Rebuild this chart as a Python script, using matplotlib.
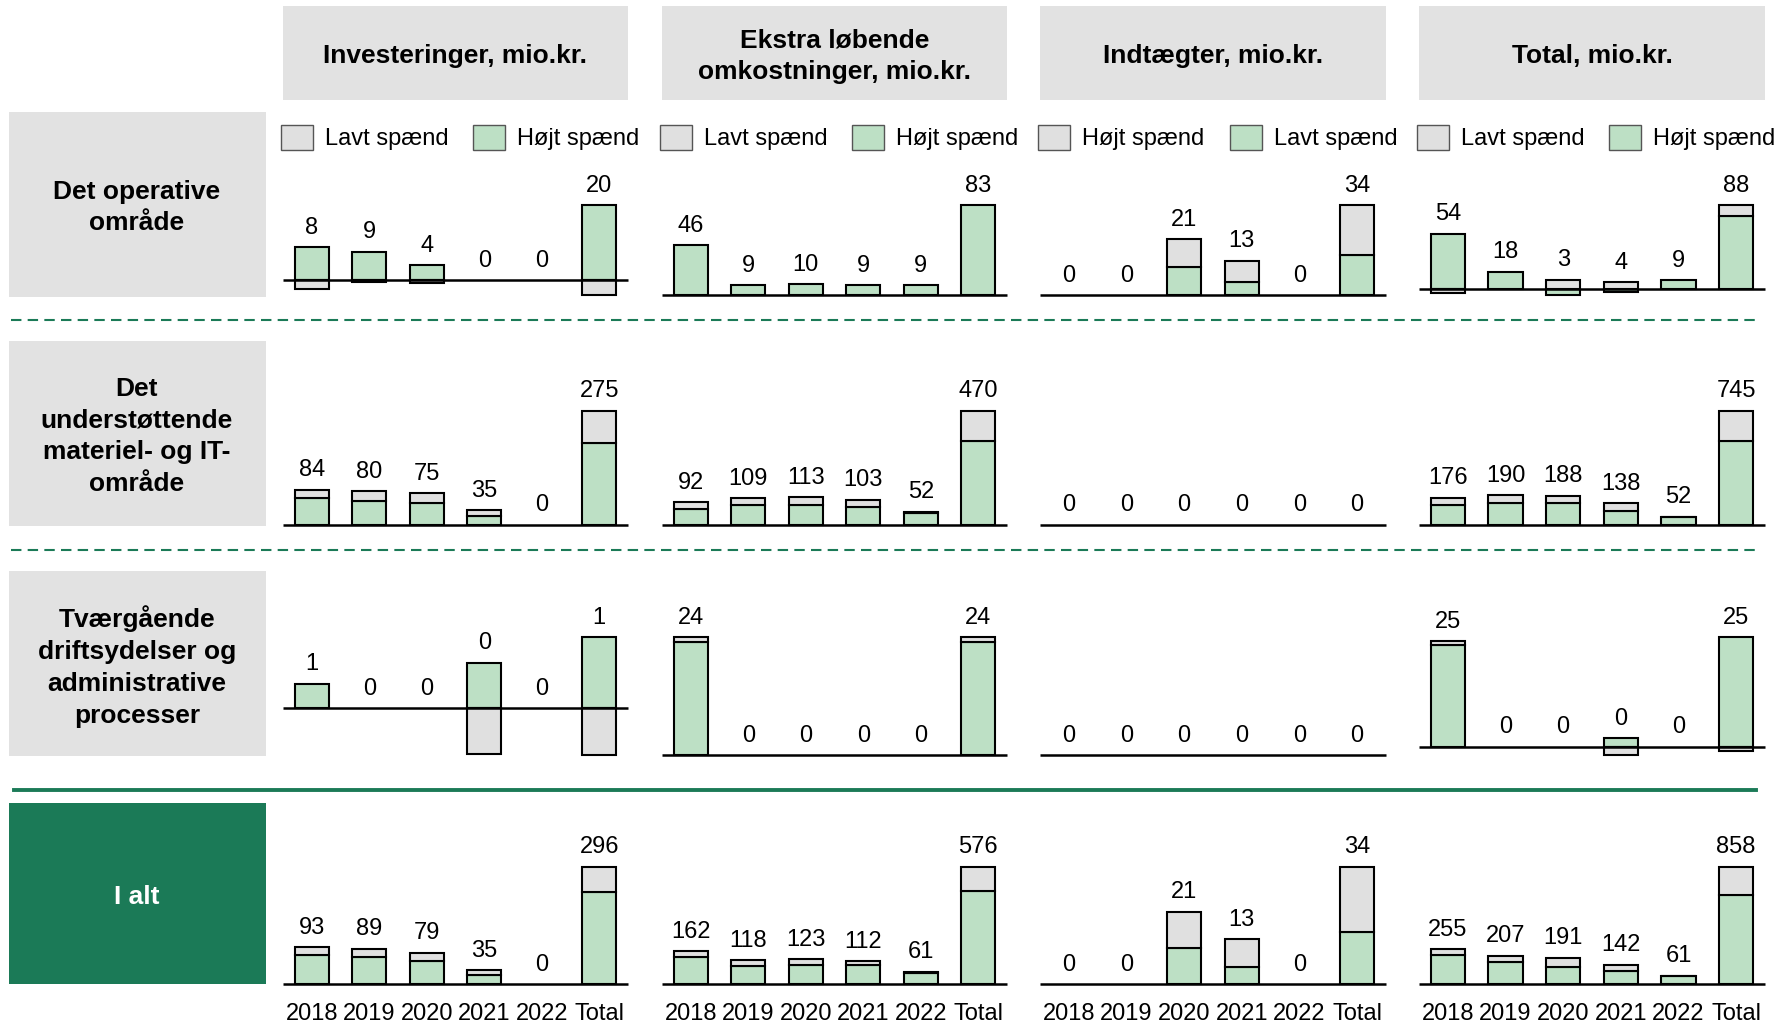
import matplotlib
matplotlib.use("Agg")
import matplotlib.pyplot as plt
from matplotlib.patches import Rectangle

plt.rcParams['font.family'] = ['Liberation Sans', 'DejaVu Sans']

# ---- data -------------------------------------------------------------
years = ["2018", "2019", "2020", "2021", "2022", "Total"]

column_titles = ["Investeringer, mio.kr.",
                 "Ekstra løbende\nomkostninger, mio.kr.",
                 "Indtægter, mio.kr.",
                 "Total, mio.kr."]

row_titles = ["Det operative\nområde",
              "Det\nunderstøttende\nmateriel- og IT-\nområde",
              "Tværgående\ndriftsydelser og\nadministrative\nprocesser",
              "I alt"]

# legend entries per column: (grey box, green box)
legend_labels = [("Lavt spænd", "Højt spænd"),
                 ("Lavt spænd", "Højt spænd"),
                 ("Højt spænd", "Lavt spænd"),
                 ("Lavt spænd", "Højt spænd")]

# bar totals (the printed values), one list per row
investeringer_total = [[8, 9, 4, 0, 0, 20],
                       [84, 80, 75, 35, 0, 275],
                       [1, 0, 0, 0, 0, 1],
                       [93, 89, 79, 35, 0, 296]]
# green segment of each bar
investeringer_groen = [[11, 9.5, 5, 0, 0, 25],
                       [63, 57, 52, 20, 0, 198],
                       [1, 0, 0, 1.85, 0, 2.9],
                       [73, 69, 59, 23, 0, 231]]

ekstra_total = [[46, 9, 10, 9, 9, 83],
                [92, 109, 113, 103, 52, 470],
                [24, 0, 0, 0, 0, 24],
                [162, 118, 123, 112, 61, 576]]
ekstra_groen = [[46, 9, 10, 9, 9, 83],
                [66, 82, 82, 74, 48, 345],
                [23, 0, 0, 0, 0, 23],
                [134, 90, 95, 92, 55, 457]]

indtaegter_total = [[0, 0, 21, 13, 0, 34],
                    [0, 0, 0, 0, 0, 0],
                    [0, 0, 0, 0, 0, 0],
                    [0, 0, 21, 13, 0, 34]]
indtaegter_groen = [[0, 0, 10.5, 5, 0, 15],
                    [0, 0, 0, 0, 0, 0],
                    [0, 0, 0, 0, 0, 0],
                    [0, 0, 10.5, 5, 0, 15]]

total_total = [[54, 18, 3, 4, 9, 88],
               [176, 190, 188, 138, 52, 745],
               [25, 0, 0, 0, 0, 25],
               [255, 207, 191, 142, 61, 858]]
total_groen = [[58, 18, -6.5, -3, 9, 76],
               [130, 140, 140, 88, 46, 546],
               [24, 0, 0, 2, 0, 26],
               [210, 158, 128, 96, 55, 651]]

totals = [investeringer_total, ekstra_total, indtaegter_total, total_total]
greens = [investeringer_groen, ekstra_groen, indtaegter_groen, total_groen]

# ---- style ------------------------------------------------------------
GREEN = '#bde0c5'
GREY = '#e0e0e0'
BOX = '#e2e2e2'
DARK = '#1b7a57'
W, H = 1790, 1024

fig = plt.figure(figsize=(W / 100, H / 100), dpi=100)
bg = fig.add_axes([0, 0, 1, 1], zorder=0)
bg.set_xlim(0, W)
bg.set_ylim(H, 0)
bg.axis('off')

col_x = [(283, 628), (662, 1007), (1040, 1386), (1419, 1765)]
row_y = [(205, 295), (410.7, 524.5), (637, 755), (866.7, 984)]
box_y = [(112, 297), (341, 526), (571, 756), (803, 984)]

# column headers and legends
for (x0, x1), title, (lab_a, lab_b) in zip(col_x, column_titles, legend_labels):
    bg.add_patch(Rectangle((x0, 6), x1 - x0, 94, facecolor=BOX, edgecolor='none'))
    bg.text((x0 + x1) / 2, 56, title, ha='center', va='center',
            fontsize=19, fontweight='bold', linespacing=1.42)
    for dx, lab, col in ((-2, lab_a, GREY), (190, lab_b, GREEN)):
        bg.add_patch(Rectangle((x0 + dx, 125), 32, 25, facecolor=col,
                               edgecolor='#555555', lw=1))
        bg.text(x0 + dx + 44, 139, lab, ha='left', va='center', fontsize=17)

# row headers
for (y0, y1), title, i in zip(box_y, row_titles, range(4)):
    last = i == 3
    bg.add_patch(Rectangle((9, y0), 257, y1 - y0,
                           facecolor=DARK if last else BOX, edgecolor='none'))
    bg.text(137, (y0 + y1) / 2 + 3, title, ha='center', va='center',
            fontsize=19, fontweight='bold', linespacing=1.42,
            color='white' if last else 'black')

# separators
for y in (320, 550):
    bg.plot([11, 1756], [y, y], color=DARK, lw=1.5, ls=(0, (5, 3)))
bg.plot([14, 1756], [790, 790], color=DARK, lw=2.8)

# ---- panels -----------------------------------------------------------
for c, (x0, x1) in enumerate(col_x):
    for r, (y0, y1) in enumerate(row_y):
        ax = fig.add_axes([x0 / W, 1 - y1 / H, (x1 - x0) / W, (y1 - y0) / H], zorder=2)
        ax.set_facecolor('none')
        for s in ax.spines.values():
            s.set_visible(False)
        tot = totals[c][r]
        grn = greens[c][r]
        tops, bottoms = [], []
        for i, (t, g) in enumerate(zip(tot, grn)):
            pos, neg = 0.0, 0.0
            for val, color in ((g, GREEN), (t - g, GREY)):
                if abs(val) < 1e-9:
                    continue
                if val > 0:
                    ax.bar(i, val, bottom=pos, width=0.59, color=color,
                           edgecolor='black', lw=1.5, zorder=2, clip_on=False)
                    pos += val
                else:
                    ax.bar(i, val, bottom=neg, width=0.59, color=color,
                           edgecolor='black', lw=1.5, zorder=2, clip_on=False)
                    neg += val
            tops.append(pos)
            bottoms.append(neg)
            ax.annotate(str(t), (i, pos), xytext=(0, 14), textcoords='offset points',
                        ha='center', va='center', fontsize=17, annotation_clip=False)
        ymax = max(tops) if max(tops) > 0 else 1
        ax.set_ylim(min(bottoms), ymax)
        ax.set_xlim(-0.5, 5.5)
        ax.axhline(0, color='black', lw=1.8, zorder=3, clip_on=False,
                   solid_capstyle='butt')
        ax.set_yticks([])
        if r == 3:
            ax.set_xticks(range(len(years)))
            ax.set_xticklabels(years, fontsize=17)
            ax.tick_params(axis='x', length=0, pad=14)
        else:
            ax.set_xticks([])

fig.savefig('out.png', dpi=100)
